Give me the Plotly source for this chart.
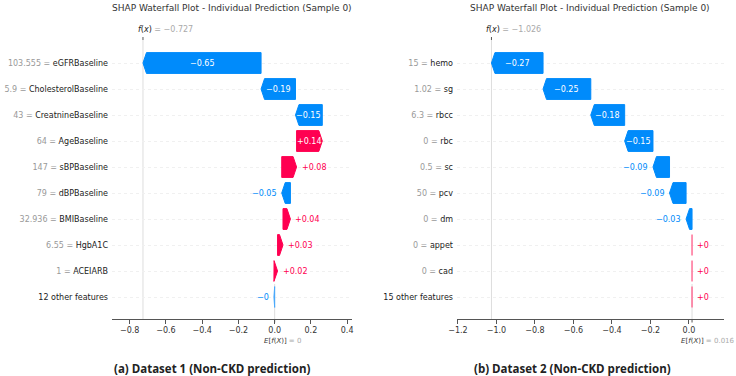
import plotly.graph_objects as go

W, H = 736, 376
FONT = "DejaVu Sans"
BLUE = "#008bfb"
RED = "#ff0051"

title_text = "SHAP Waterfall Plot - Individual Prediction (Sample 0)"

# ---- Dataset 1 (top row first) ----
names1 = ["eGFRBaseline", "CholesterolBaseline", "CreatnineBaseline", "AgeBaseline",
          "sBPBaseline", "dBPBaseline", "BMIBaseline", "HgbA1C", "ACEIARB",
          "12 other features"]
featvals1 = [103.555, 5.9, 43, 64, 147, 79, 32.936, 6.55, 1, None]
shap1 = [-0.652, -0.19, -0.148, 0.142, 0.082, -0.048, 0.041, 0.03, 0.02, -0.004]
base1 = 0.0
caption1 = "(a) Dataset 1 (Non-CKD prediction)"

# ---- Dataset 2 ----
names2 = ["hemo", "sg", "rbcc", "rbc", "sc", "pcv", "dm", "appet", "cad",
          "15 other features"]
featvals2 = [15, 1.02, 6.3, 0, 0.5, 50, 0, 0, 0, None]
shap2 = [-0.268, -0.248, -0.176, -0.147, -0.086, -0.086, -0.031, 0.0, 0.0, 0.0]
base2 = 0.016
caption2 = "(b) Dataset 2 (Non-CKD prediction)"

panels = [
    dict(names=names1, fv=featvals1, sv=shap1, base=base1, cap=caption1,
         dom=[112 / W, 352 / W], xr=[-0.898, 0.427], xt=0.2, cap_x=212 / W, title_x=232 / W),
    dict(names=names2, fv=featvals2, sv=shap2, base=base2, cap=caption2,
         dom=[457 / W, 724 / W], xr=[-1.205, 0.182], xt=0.2, cap_x=572 / W, title_x=590 / W),
]

Y_DOM = [1 - 319 / H, 1 - 40 / H]
Y_RANGE = [-0.846, 9.885]
HALF = 0.4
HEAD_PX = 3.5


def fmt(v):
    s = "%+.2f" % v
    s = s.rstrip("0").rstrip(".")
    return s.replace("-", "\u2212")


def fmt_num(v):
    s = "%.3f" % v
    s = s.rstrip("0").rstrip(".")
    return s.replace("-", "\u2212")


fig = go.Figure()
annotations = []
shapes = []
layout = {}

for k, p in enumerate(panels):
    ax = "" if k == 0 else str(k + 1)
    xref, yref = "x" + ax, "y" + ax
    n = len(p["names"])
    dom_px = (p["dom"][1] - p["dom"][0]) * W
    ppu = dom_px / (p["xr"][1] - p["xr"][0])
    head = HEAD_PX / ppu

    tickvals, ticktext = [], []
    for i, name in enumerate(p["names"]):
        tickvals.append(n - 1 - i)
        if p["fv"][i] is None:
            ticktext.append(name)
        else:
            ticktext.append("<span style='color:#999999'>%s = </span>%s" % (("%g" % p["fv"][i]), name))

    start = p["base"]
    for i in reversed(range(n)):
        v = p["sv"][i]
        y = n - 1 - i
        end = start + v
        hl = min(abs(v), head)
        col = RED if v >= 0 else BLUE
        if v >= 0:
            xs = [start, end - hl, end, end - hl, start, start]
        else:
            xs = [start, end + hl, end, end + hl, start, start]
        ys = [y - HALF, y - HALF, y, y + HALF, y + HALF, y - HALF]
        lc = col if abs(v) * ppu > 1.5 else ("#ff6f96" if v >= 0 else "#4aa9fc")
        fig.add_trace(go.Scatter(x=xs, y=ys, mode="lines", fill="toself", fillcolor=col,
                                 line=dict(color=lc, width=1), hoverinfo="skip",
                                 showlegend=False, xaxis=xref, yaxis=yref))
        lab = fmt(v)
        txt_px = 4.9 * len(lab)
        if abs(v) * ppu > txt_px:
            annotations.append(dict(x=(start + end) / 2, y=y, xref=xref, yref=yref, text=lab,
                                    showarrow=False, font=dict(family=FONT, size=8, color="white"),
                                    xanchor="center", yanchor="middle"))
        else:
            if v >= 0:
                annotations.append(dict(x=max(start, end), y=y, xref=xref, yref=yref, text=lab,
                                        showarrow=False, xshift=3,
                                        font=dict(family=FONT, size=8, color=RED),
                                        xanchor="left", yanchor="middle"))
            else:
                annotations.append(dict(x=min(start, end), y=y, xref=xref, yref=yref, text=lab,
                                        showarrow=False, xshift=-3,
                                        font=dict(family=FONT, size=8, color=BLUE),
                                        xanchor="right", yanchor="middle"))
        start = end
    fx = start

    # f(x) vertical line and top tick
    shapes.append(dict(type="line", xref=xref, yref=yref + " domain", x0=fx, x1=fx, y0=0, y1=1,
                       line=dict(color="#dddddd", width=1), layer="below"))
    shapes.append(dict(type="line", xref=xref, yref="paper", x0=fx, x1=fx, y0=Y_DOM[1],
                       y1=Y_DOM[1] + 3 / H, line=dict(color="#555555", width=1)))
    # base value line bottom row
    shapes.append(dict(type="line", xref=xref, yref=yref, x0=p["base"], x1=p["base"],
                       y0=Y_RANGE[0], y1=0.5, line=dict(color="#dddddd", width=1), layer="below"))
    shapes.append(dict(type="line", xref=xref, yref="paper", x0=p["base"], x1=p["base"],
                       y0=Y_DOM[0], y1=Y_DOM[0] - 3.5 / H, line=dict(color="#555555", width=1)))

    annotations.append(dict(x=fx, y=1 - 29 / H, xref=xref, yref="paper", xshift=-7,
                            text="<i>f</i>(<i>x</i>)<span style='color:#aaaaaa'> = %s</span>" % fmt_num(fx),
                            showarrow=False, xanchor="left", yanchor="middle",
                            font=dict(family=FONT, size=8, color="#222222")))
    annotations.append(dict(x=p["base"], y=1 - 341 / H, xref=xref, yref="paper", xshift=-13,
                            text="<i>E</i>[<i>f</i>(<i>X</i>)]<span style='color:#aaaaaa'> = %s</span>" % fmt_num(p["base"]),
                            showarrow=False, xanchor="left", yanchor="middle",
                            font=dict(family=FONT, size=7, color="#333333")))
    annotations.append(dict(x=p["title_x"], y=1 - 8 / H, xref="paper", yref="paper",
                            text=title_text, showarrow=False, xanchor="center", yanchor="middle",
                            font=dict(family=FONT, size=9, color="#333333")))
    annotations.append(dict(x=p["cap_x"], y=1 - 368 / H, xref="paper", yref="paper",
                            text="<b>%s</b>" % p["cap"], showarrow=False, xanchor="center",
                            yanchor="middle", font=dict(family="Open Sans", size=11.5, color="#222222")))

    layout["xaxis" + ax] = dict(domain=p["dom"], range=p["xr"], anchor=yref, showline=True,
                                linecolor="#555555", linewidth=1, ticks="outside", ticklen=3.5,
                                tickcolor="#555555", dtick=p["xt"], tick0=0, tickformat=".1f",
                                showgrid=False, zeroline=False, automargin=False,
                                tickfont=dict(family=FONT, size=8, color="#333333"))
    layout["yaxis" + ax] = dict(domain=Y_DOM, range=Y_RANGE, anchor=xref, showline=False,
                                tickvals=tickvals, ticktext=ticktext, ticks="",
                                showgrid=True, gridcolor="#f0f0f0", griddash="dot", gridwidth=1,
                                zeroline=False, ticklabelstandoff=3, automargin=False,
                                tickfont=dict(family=FONT, size=8, color="#222222"))

fig.update_layout(width=W, height=H, margin=dict(l=0, r=0, t=0, b=0),
                  paper_bgcolor="white", plot_bgcolor="white",
                  annotations=annotations, shapes=shapes, **layout)
fig.write_html("out.html")
